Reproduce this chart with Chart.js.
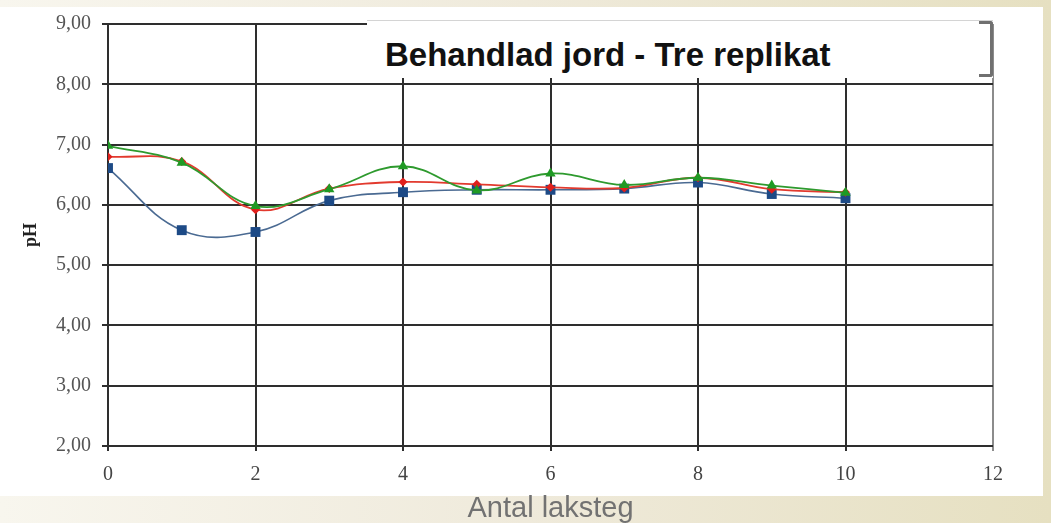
<!DOCTYPE html>
<html>
<head>
<meta charset="utf-8">
<script src="https://cdn.jsdelivr.net/npm/chart.js@4.4.0/dist/chart.umd.min.js"></script>
<style>
  html, body { margin: 0; padding: 0; }
  body {
    width: 1051px; height: 523px; overflow: hidden; position: relative;
    background: linear-gradient(to right, #f8f6ee 0%, #efeadb 50%, #e6e0c1 100%);
  }
  #panel { position: absolute; left: 0; top: 7px; width: 1043px; height: 489px; background: #fff; }
  #wrap { position: absolute; left: 0; top: 0; width: 1051px; height: 523px; }
  #titlebox {
    position: absolute; left: 367px; top: 20px; width: 626px; height: 58px;
    background: #fff; border-top: 1px solid #d4d4d4; box-sizing: border-box;
  }
  #titlebox span {
    position: absolute; left: 18px; top: 14px; line-height: 40px;
    font-family: 'Liberation Sans', Arial, sans-serif; font-size: 33px; font-weight: bold; color: #111;
    white-space: nowrap;
  }
  #bracket {
    position: absolute; left: 979px; top: 21px; width: 11px; height: 50px;
    border: 3px solid #707070; border-left: none; border-radius: 0 3px 3px 0;
  }
</style>
</head>
<body>
<div id="panel"></div>
<div id="wrap"><canvas id="phChart" width="1051" height="523"></canvas></div>
<div id="titlebox"><span>Behandlad jord - Tre replikat</span></div>
<div id="bracket"></div>
<script>
const steps = [0, 1, 2, 3, 4, 5, 6, 7, 8, 9, 10];
const blueVals  = [6.61, 5.58, 5.55, 6.07, 6.21, 6.25, 6.25, 6.27, 6.37, 6.18, 6.11];
const redVals   = [6.80, 6.72, 5.92, 6.27, 6.38, 6.34, 6.29, 6.28, 6.45, 6.26, 6.21];
const greenVals = [6.98, 6.70, 5.98, 6.26, 6.64, 6.24, 6.52, 6.33, 6.45, 6.32, 6.20];
const yTickLabels = ['2,00', '3,00', '4,00', '5,00', '6,00', '7,00', '8,00', '9,00'];
const xTickLabels = ['0', '2', '4', '6', '8', '10', '12'];

const toPoints = vals => steps.map((s, i) => ({ x: s, y: vals[i] }));

const ctx = document.getElementById('phChart').getContext('2d');

new Chart(ctx, {
    type: 'line',
    data: {
        datasets: [
            {
                label: 'Replikat 3',
                data: toPoints(greenVals),
                borderColor: '#2e9a2e',
                borderWidth: 1.8,
                backgroundColor: '#1f9a24',
                pointStyle: 'triangle',
                pointRadius: 6,
                pointBorderWidth: 0,
                tension: 0.4,
                fill: false
            },
            {
                label: 'Replikat 2',
                data: toPoints(redVals),
                borderColor: '#e23a2e',
                borderWidth: 1.8,
                backgroundColor: '#e0201c',
                pointStyle: 'rectRot',
                pointRadius: 4.5,
                pointBorderWidth: 0,
                tension: 0.4,
                fill: false
            },
            {
                label: 'Replikat 1',
                data: toPoints(blueVals),
                borderColor: '#4a6a92',
                borderWidth: 1.6,
                backgroundColor: '#1d4a86',
                pointStyle: 'rect',
                pointRadius: 7,
                pointBorderWidth: 0,
                tension: 0.4,
                fill: false
            }
        ]
    },
    options: {
        responsive: false,
        animation: false,
        layout: { padding: { left: 0, right: 58, top: 24, bottom: 0 } },
        plugins: {
            legend: { display: false },
            tooltip: { enabled: false }
        },
        scales: {
            x: {
                type: 'linear',
                min: 0,
                max: 12,
                afterFit: scale => { scale.height = 77; },
                grid: {
                    color: c => (c.tick && c.tick.value === 12) ? '#8c8c8c' : '#2e2e2e',
                    lineWidth: 2,
                    tickLength: 5
                },
                border: { display: false },
                ticks: {
                    stepSize: 2,
                    padding: 12,
                    color: '#444',
                    font: { family: "'Liberation Serif', 'Times New Roman', serif", size: 20 },
                    callback: v => xTickLabels[v / 2]
                },
                title: {
                    display: true,
                    text: 'Antal laksteg',
                    color: '#727272',
                    font: { family: "'Liberation Sans', Arial, sans-serif", size: 29 },
                    padding: { top: 0, bottom: -3 }
                }
            },
            y: {
                min: 2,
                max: 9,
                afterFit: scale => { scale.width = 108; },
                grid: {
                    color: '#2e2e2e',
                    lineWidth: 2,
                    tickLength: 6
                },
                border: { display: true, color: '#2e2e2e', width: 2 },
                ticks: {
                    stepSize: 1,
                    padding: 11,
                    color: '#555',
                    font: { family: "'Liberation Serif', 'Times New Roman', serif", size: 20 },
                    callback: v => yTickLabels[v - 2]
                },
                title: {
                    display: true,
                    text: 'pH',
                    color: '#222',
                    font: { family: "'Liberation Serif', 'Times New Roman', serif", size: 18, weight: 'bold' },
                    padding: { top: 21, bottom: 0 }
                }
            }
        }
    }
});
</script>
</body>
</html>
